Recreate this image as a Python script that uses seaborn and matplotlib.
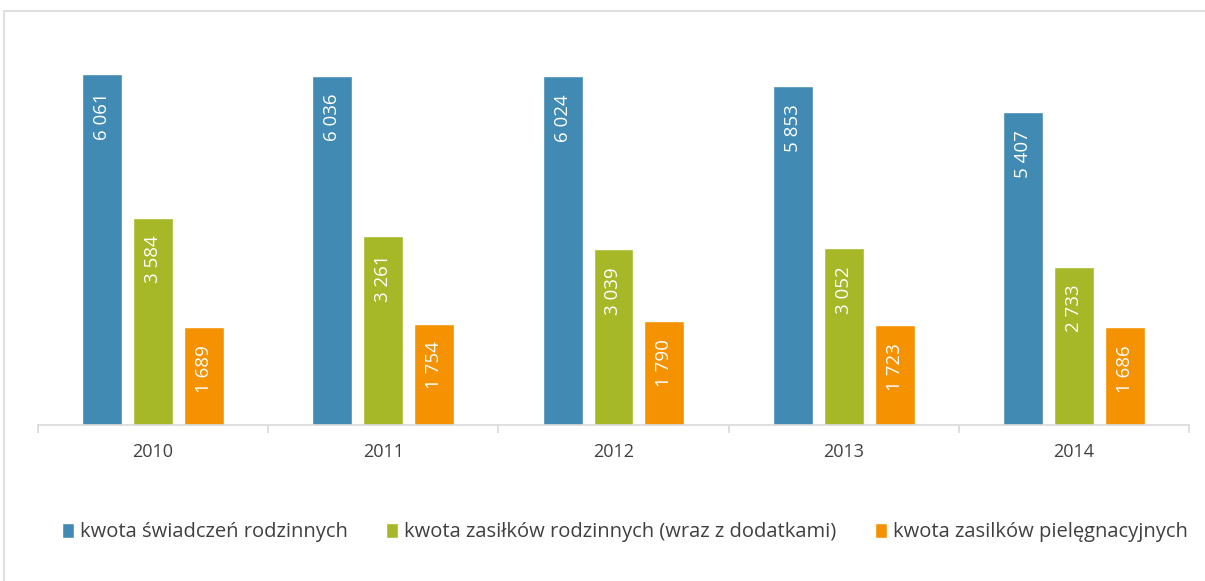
import matplotlib
matplotlib.use("Agg")
import matplotlib.pyplot as plt
from matplotlib.patches import Rectangle
import seaborn as sns
import pandas as pd

years = ["2010", "2011", "2012", "2013", "2014"]
series = [
    "kwota świadczeń rodzinnych",
    "kwota zasiłków rodzinnych (wraz z dodatkami)",
    "kwota zasilków pielęgnacyjnych",
]
swiadczenia = [6061, 6036, 6024, 5853, 5407]
zasilki_rodzinne = [3584, 3261, 3039, 3052, 2733]
zasilki_pielegnacyjne = [1689, 1754, 1790, 1723, 1686]
colors = ["#418AB3", "#A6B727", "#F59201"]

df = pd.DataFrame({
    "rok": years * 3,
    "seria": [s for s in series for _ in years],
    "kwota": swiadczenia + zasilki_rodzinne + zasilki_pielegnacyjne,
})

sns.set_theme(style="white")
plt.rcParams["font.family"] = ["Open Sans", "DejaVu Sans"]

fig = plt.figure(figsize=(12.05, 5.81), dpi=100)
ax = fig.add_axes([38 / 1205, 156 / 581, (1189 - 38) / 1205, 405 / 581])

# light frame around the whole chart
fig.patches.append(Rectangle((4 / 1205, -0.1), 1.2, 1.1 - 11 / 581,
                             transform=fig.transFigure, fill=False,
                             edgecolor="#D9D9D9", linewidth=1.2))

sns.barplot(data=df, x="rok", y="kwota", hue="seria", palette=colors,
            width=0.663, gap=0.215, saturation=1, ax=ax, legend=True)

ax.set_xlim(-0.5, 4.5)
ax.set_ylim(0, 7000)
ax.set_xlabel("")
ax.set_ylabel("")
ax.set_yticks([])
sns.despine(ax=ax, left=True, top=True, right=True)
ax.spines["bottom"].set_color("#D9D9D9")
ax.spines["bottom"].set_linewidth(1.2)

ax.set_xticks(range(len(years)))
ax.set_xticklabels(years, fontsize=13, color="#404040")
ax.set_xticks([i - 0.5 for i in range(len(years) + 1)], minor=True)
ax.tick_params(axis="x", which="major", length=0, pad=13)
ax.tick_params(axis="x", which="minor", length=6, color="#D9D9D9", width=1.2,
               bottom=True)

for cont in ax.containers:
    for bar in cont:
        h = bar.get_height()
        label = f"{int(h):,}".replace(",", " ")
        ax.annotate(label, (bar.get_x() + bar.get_width() / 2, h),
                    xytext=(0, -13), textcoords="offset points",
                    rotation=90, ha="center", va="top",
                    color="white", fontsize=13.5)

handles, labels = ax.get_legend_handles_labels()
ax.legend(handles, labels, loc="center", bbox_to_anchor=(0.51, -0.265),
          ncol=3, frameon=False, fontsize=14.5, handlelength=0.6,
          handleheight=0.8, handletextpad=0.3, columnspacing=1.9,
          labelcolor="#404040")

fig.savefig("out.png", dpi=100)
